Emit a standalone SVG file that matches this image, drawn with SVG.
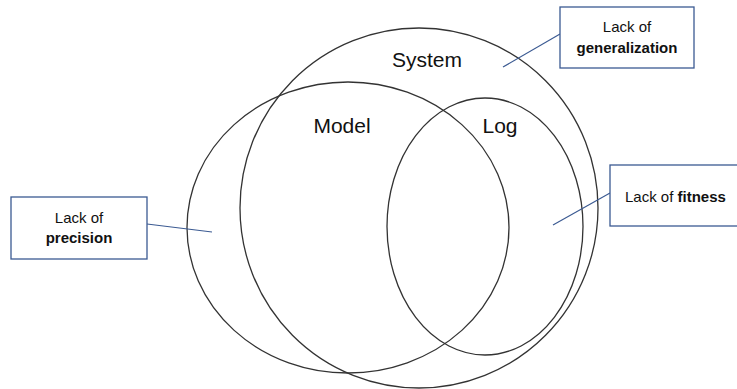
<svg xmlns="http://www.w3.org/2000/svg" width="737" height="389" viewBox="0 0 737 389">
<style>
.set{fill:none;stroke:#333;stroke-width:1.3}
.box{fill:#fff;stroke:#3B5A92;stroke-width:1.3}
.lead{stroke:#3B5A92;stroke-width:1.2;fill:none}
.big{font-family:"Liberation Sans",Arial,sans-serif;font-size:21px;fill:#111;text-anchor:middle}
.lbl{font-family:"Liberation Sans",Arial,sans-serif;font-size:15px;fill:#111}
.b{font-weight:bold}
</style>
<rect width="737" height="389" fill="#fff"/>
<g id="system"><ellipse class="set" cx="419" cy="208" rx="179" ry="180"/><text class="big" x="427" y="67">System</text></g>
<g id="model"><ellipse class="set" cx="348" cy="227.5" rx="161" ry="145.5"/><text class="big" x="342" y="133">Model</text></g>
<g id="log"><ellipse class="set" cx="485" cy="226.5" rx="98" ry="128.5"/><text class="big" x="500" y="133">Log</text></g>
<g id="connectors">
<line class="lead" x1="503" y1="67" x2="560" y2="34"/>
<line class="lead" x1="147" y1="224" x2="212" y2="232"/>
<line class="lead" x1="553" y1="225" x2="610" y2="193"/>
</g>
<g id="lack-generalization"><rect class="box" x="560" y="7" width="134" height="61"/><text class="lbl" x="627" y="32" text-anchor="middle">Lack of</text><text class="lbl b" x="627" y="53" text-anchor="middle">generalization</text></g>
<g id="lack-precision"><rect class="box" x="11" y="197" width="136" height="62"/><text class="lbl" x="79" y="223" text-anchor="middle">Lack of</text><text class="lbl b" x="79" y="243" text-anchor="middle">precision</text></g>
<g id="lack-fitness"><rect class="box" x="610" y="165" width="140" height="61"/><text class="lbl" x="625" y="202">Lack of <tspan class="b">fitness</tspan></text></g>
</svg>
